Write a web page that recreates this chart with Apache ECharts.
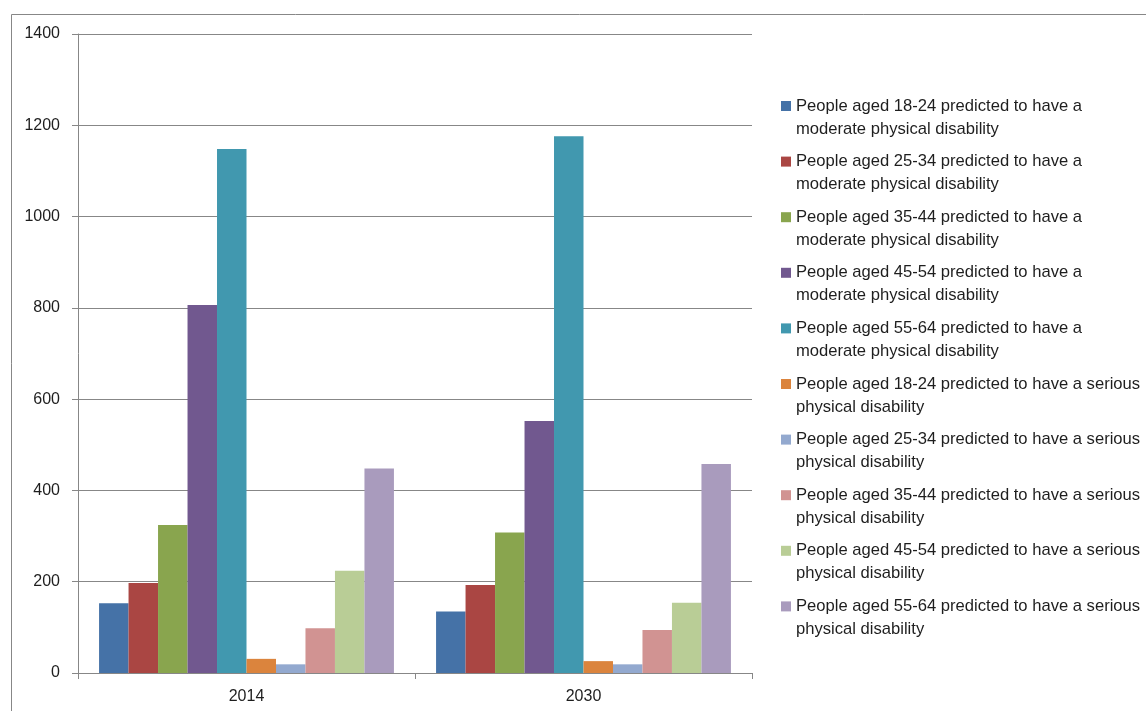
<!DOCTYPE html>
<html>
<head>
<meta charset="utf-8">
<script src="https://cdn.jsdelivr.net/npm/echarts@6/dist/echarts.min.js"></script>
<style>
  html, body { margin: 0; padding: 0; background: #fff; }
  #chart { width: 1146px; height: 711px; }
</style>
</head>
<body>
<div id="chart"></div>
<script>
// Years on the category axis
const years = ['2014', '2030'];

// Predicted number of people with a physical disability, by age band and severity
const moderate18to24 = [153, 135];
const moderate25to34 = [197, 193];
const moderate35to44 = [324, 308];
const moderate45to54 = [806, 552];
const moderate55to64 = [1148, 1176];
const serious18to24 = [31, 26];
const serious25to34 = [19, 19];
const serious35to44 = [98, 94];
const serious45to54 = [224, 154];
const serious55to64 = [448, 458];

const seriesNames = [
  'People aged 18-24 predicted to have a moderate physical disability',
  'People aged 25-34 predicted to have a moderate physical disability',
  'People aged 35-44 predicted to have a moderate physical disability',
  'People aged 45-54 predicted to have a moderate physical disability',
  'People aged 55-64 predicted to have a moderate physical disability',
  'People aged 18-24 predicted to have a serious physical disability',
  'People aged 25-34 predicted to have a serious physical disability',
  'People aged 35-44 predicted to have a serious physical disability',
  'People aged 45-54 predicted to have a serious physical disability',
  'People aged 55-64 predicted to have a serious physical disability'
];
const seriesValues = [
  moderate18to24, moderate25to34, moderate35to44, moderate45to54, moderate55to64,
  serious18to24, serious25to34, serious35to44, serious45to54, serious55to64
];
const palette = [
  '#4572A7', '#AA4643', '#89A54E', '#71588F', '#4198AF',
  '#DB843D', '#93A9CF', '#D19392', '#B9CD96', '#A99BBD'
];

const fontFamily = '"Liberation Sans", Arial, sans-serif';
const axisGray = '#878787';

// Legend swatch: a 10x10 square sitting at the top of a taller, otherwise empty box,
// so that it lines up with the first line of each two-line legend entry.
const legendSwatch = 'path://M0,0L10,0L10,10L0,10Z M0,33L0,33';

const chart = echarts.init(document.getElementById('chart'), null, { renderer: 'canvas' });

chart.setOption({
  animation: false,
  color: palette,
  textStyle: { fontFamily: fontFamily },
  graphic: [{
    type: 'rect',
    shape: { x: 11.5, y: 14.5, width: 1200, height: 800 },
    style: { fill: 'none', stroke: axisGray, lineWidth: 1 },
    silent: true,
    z: -1
  }],
  grid: { left: 78, right: 394, top: 34, bottom: 38, containLabel: false },
  legend: {
    orient: 'vertical',
    left: 776,
    top: 89.5,
    itemWidth: 10,
    itemHeight: 33,
    itemGap: 9.6,
    icon: legendSwatch,
    selectedMode: false,
    textStyle: {
      fontFamily: fontFamily,
      fontSize: 16.6,
      color: '#1e1e1e',
      lineHeight: 23
    },
    formatter: function (name) {
      return name
        .replace(' moderate physical', '\nmoderate physical')
        .replace('serious physical', 'serious\nphysical');
    },
    data: seriesNames
  },
  xAxis: {
    type: 'category',
    data: years,
    axisLine: { lineStyle: { color: axisGray, width: 1 } },
    axisTick: { show: true, length: 6, alignWithLabel: false, lineStyle: { color: axisGray } },
    axisLabel: { margin: 16, fontSize: 16, color: '#1e1e1e', fontFamily: fontFamily },
    splitLine: { show: false }
  },
  yAxis: {
    type: 'value',
    min: 0,
    max: 1400,
    interval: 200,
    axisLine: { show: true, lineStyle: { color: axisGray, width: 1 } },
    axisTick: { show: true, length: 6, lineStyle: { color: axisGray } },
    axisLabel: {
      margin: 18, fontSize: 16, color: '#1e1e1e', fontFamily: fontFamily,
      formatter: function (v) { return String(v); }
    },
    splitLine: { show: true, lineStyle: { color: axisGray, width: 1 } }
  },
  series: seriesNames.map(function (name, i) {
    return {
      name: name,
      type: 'bar',
      data: seriesValues[i],
      barGap: '0%',
      barCategoryGap: '12.5%',
      itemStyle: { color: palette[i] }
    };
  })
});
</script>
</body>
</html>
